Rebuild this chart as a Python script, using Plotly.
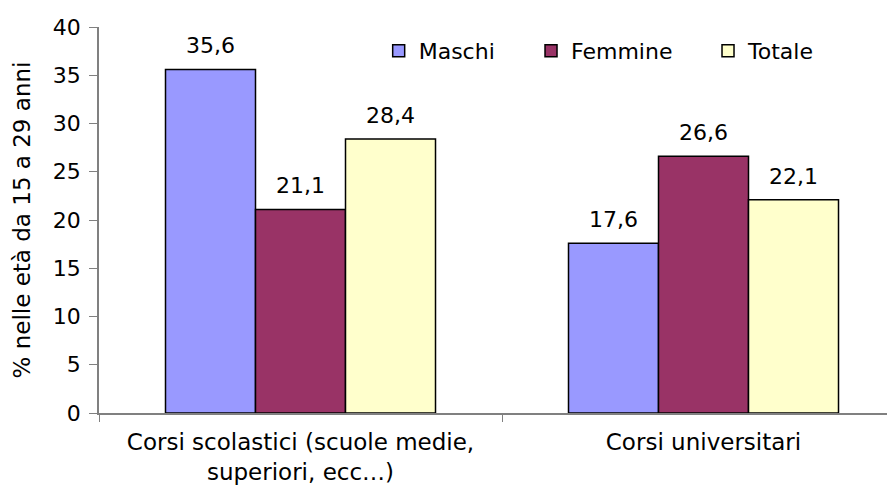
import plotly.graph_objects as go

categories = ["Corsi scolastici (scuole medie,<br>superiori, ecc…)", "Corsi universitari"]
series_names = ["Maschi", "Femmine", "Totale"]
maschi = [35.6, 17.6]
femmine = [21.1, 26.6]
totale = [28.4, 22.1]
colors = ["#9999FF", "#993366", "#FFFFCC"]
y_ticks = [0, 5, 10, 15, 20, 25, 30, 35, 40]

font_family = "DejaVu Sans, Liberation Sans, Arial, sans-serif"

W, H = 897, 488
ML, MT, MB = 91, 19, 83
plot_w = W - ML
bargap = 0.33
cat_px = plot_w / 2
bar_px = cat_px * (1 - bargap) / 3

legend_ids = ["legend", "legend2", "legend3"]
legend_x = [0.347, 0.536, 0.7556]

fig = go.Figure()
all_vals = [maschi, femmine, totale]
for i, (name, vals, col) in enumerate(zip(series_names, all_vals, colors)):
    fig.add_trace(go.Bar(
        x=categories, y=vals, name=name, legend=legend_ids[i],
        marker=dict(color=col, line=dict(color="black", width=1.5)),
        cliponaxis=False,
    ))
    for c, v in zip(categories, vals):
        fig.add_annotation(
            x=c, y=v, text=f"{v:.1f}".replace(".", ","),
            showarrow=False, yanchor="bottom", xanchor="center",
            xshift=(i - 1) * bar_px, yshift=9,
            font=dict(size=22, color="black", family=font_family),
        )

legend_common = dict(orientation="h", y=0.938, xanchor="left", yanchor="middle",
                     font=dict(size=22), bgcolor="rgba(0,0,0,0)", itemwidth=30)

fig.update_layout(
    width=W, height=H,
    margin=dict(l=ML, r=0, t=MT, b=MB, autoexpand=False),
    paper_bgcolor="white", plot_bgcolor="white",
    barmode="group", bargap=bargap, bargroupgap=0,
    font=dict(family=font_family, size=22, color="black"),
    showlegend=True,
    legend=dict(x=legend_x[0], **legend_common),
    legend2=dict(x=legend_x[1], **legend_common),
    legend3=dict(x=legend_x[2], **legend_common),
    xaxis=dict(
        type="category", range=[-0.5, 1.5],
        showline=True, linecolor="#808080", linewidth=1.5,
        ticks="outside", tickson="boundaries", ticklen=7, tickcolor="#808080",
        tickfont=dict(size=23, family=font_family), ticklabelstandoff=8,
        showgrid=False, zeroline=False, automargin=False,
    ),
    yaxis=dict(
        range=[0, 40], tickvals=y_ticks,
        showline=True, linecolor="#808080", linewidth=1.5,
        ticks="outside", ticklen=8, tickcolor="#808080",
        tickfont=dict(size=22, family=font_family), ticklabelstandoff=4,
        showgrid=False, zeroline=False, automargin=False,
        title=dict(text="% nelle età da 15 a 29 anni", font=dict(size=23), standoff=16),
    ),
)

fig.write_html("out.html")
